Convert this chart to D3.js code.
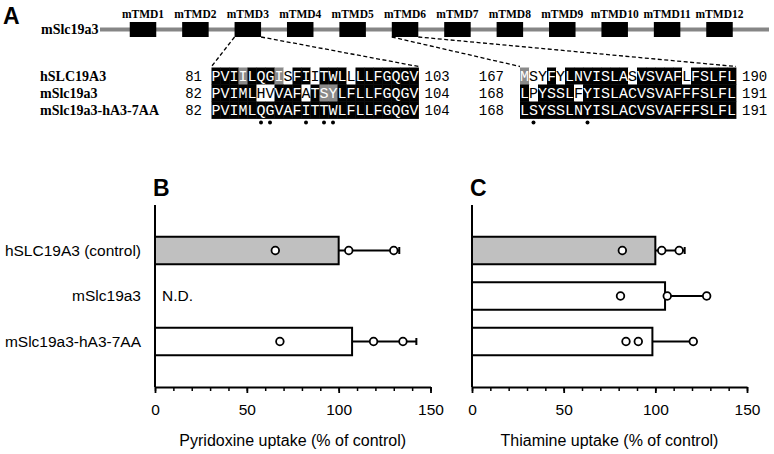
<!DOCTYPE html>
<html><head><meta charset="utf-8">
<script src="https://cdn.jsdelivr.net/npm/d3@7"></script>
<style>body{margin:0;background:#fff}svg{display:block}</style>
</head><body><svg id="c" width="774" height="454"></svg>
<script>
// ---------- DATA ----------
const tmdLabels = ["mTMD1","mTMD2","mTMD3","mTMD4","mTMD5","mTMD6","mTMD7","mTMD8","mTMD9","mTMD10","mTMD11","mTMD12"];
const geneName = "mSlc19a3";
const seqNames = ["hSLC19A3","mSlc19a3","mSlc19a3-hA3-7AA"];
const block1Starts = [81,82,82];
const block1Ends = [103,104,104];
const block1Seqs = ["PVIILQGISFIITWLLLLFGQGV","PVIMLHVVAFATSYLFLLFGQGV","PVIMLQGVAFITTWLFLLFGQGV"];
const block1Shade = ["bbbgbbbgwbbwbbbwbbbbbbb","bbbbbwwbbbwbggbbbbbbbbb","bbbbbbbbbbbbbbbbbbbbbbb"];
const block1Dots = [5,6,10,12,13];
const block2Starts = [167,168,168];
const block2Ends = [190,191,191];
const block2Seqs = ["MSYFYLNVISLASVSVAFLFSLFL","LPYSSLFYISLACVSVAFFFSLFL","LSYSSLNYISLACVSVAFFFSLFL"];
const block2Shade = ["gwwbwbbbbbbbwbbbbbwbbbbb","bwbbbbwbbbbbbbbbbbbbbbbb","bbbbbbbbbbbbbbbbbbbbbbbb"];
const block2Dots = [1,7];

const categories = ["hSLC19A3 (control)","mSlc19a3","mSlc19a3-hA3-7AA"];
const barFills = ["#c0c0c0","#ffffff","#ffffff"];
const pyridoxineMean = [100, null, 107.3];
const pyridoxineSD = [33, null, 35];
const pyridoxinePoints = [[65.5,105.5,130],[],[68,119,135]];
const thiamineMean = [100, 105.3, 98.4];
const thiamineSD = [16, 24, 22];
const thiaminePoints = [[82,103.5,113],[81,106.5,128],[84,90.7,120.7]];
const xTicks = [0,50,100,150];
const xMinorTicks = d3.range(0,151,10);

// ---------- STYLE ----------
const SANS = "'Liberation Sans', Arial, Helvetica, sans-serif";
const SERIF = "'Liberation Serif', 'Times New Roman', serif";
const MONO = "'Liberation Mono', 'Courier New', monospace";
const svg = d3.select("#c");

// ---------- PANEL A ----------
svg.append("text").text("A").attr("x",3).attr("y",24)
  .style("font-family",SANS).style("font-weight","bold").style("font-size","23px");

const lineY = 29.5;
svg.append("text").text(geneName).attr("x",41).attr("y",34)
  .style("font-family",SERIF).style("font-weight","bold").style("font-size","14px");
svg.append("line").attr("x1",100).attr("x2",769).attr("y1",lineY).attr("y2",lineY)
  .attr("stroke","#868686").attr("stroke-width",4);

const tmdX = d3.scalePoint().domain(tmdLabels).range([143,719.5]);
const boxW = 26.5, boxTop = 22, boxH = 15;
svg.selectAll("rect.tmd").data(tmdLabels).join("rect").attr("class","tmd")
  .attr("x",d=>tmdX(d)-boxW/2).attr("y",boxTop).attr("width",boxW).attr("height",boxH).attr("fill","#000");
svg.selectAll("text.tmd").data(tmdLabels).join("text").attr("class","tmd")
  .attr("x",d=>tmdX(d)).attr("y",18).attr("text-anchor","middle").text(d=>d)
  .style("font-family",SERIF).style("font-weight","bold").style("font-size","11.5px");

// alignment
const cw = 9.0, rowH = 17, rowTop0 = 67.5;
const rowTop = r => rowTop0 + r*rowH;
const blocks = [
  {x0:211.5, seqs:block1Seqs, shade:block1Shade, starts:block1Starts, ends:block1Ends, dots:block1Dots, startAnchor:202, tmd:"mTMD3"},
  {x0:520, seqs:block2Seqs, shade:block2Shade, starts:block2Starts, ends:block2Ends, dots:block2Dots, startAnchor:504, tmd:"mTMD6"}
];
const shadeFill = {b:"#000", g:"#8a8a8a", w:"#fff"};
const shadeText = {b:"#fff", g:"#fff", w:"#000"};

seqNames.forEach((n,r)=>{
  svg.append("text").text(n).attr("x",40).attr("y",rowTop(r)+rowH/2+5)
    .style("font-family",SERIF).style("font-weight","bold").style("font-size","14px");
});

blocks.forEach(bk=>{
  const g = svg.append("g");
  bk.seqs.forEach((s,r)=>{
    const chars = s.split("").map((c,k)=>({c,k,sh:bk.shade[r][k]}));
    g.selectAll(null).data(chars).join("rect")
      .attr("x",d=>bk.x0+d.k*cw).attr("y",rowTop(r)).attr("width",cw+0.4).attr("height",rowH+0.4)
      .attr("fill",d=>shadeFill[d.sh]);
    g.selectAll(null).data(chars).join("text")
      .attr("x",d=>bk.x0+(d.k+0.5)*cw).attr("y",rowTop(r)+rowH/2+5).attr("text-anchor","middle")
      .attr("fill",d=>shadeText[d.sh]).text(d=>d.c)
      .style("font-family",MONO).style("font-size","15px");
    const endX = bk.x0 + s.length*cw;
    g.append("text").text(bk.starts[r]).attr("x",bk.startAnchor).attr("y",rowTop(r)+rowH/2+5)
      .attr("text-anchor","end").style("font-family",MONO).style("font-size","14px");
    g.append("text").text(bk.ends[r]).attr("x",endX+6).attr("y",rowTop(r)+rowH/2+5)
      .style("font-family",MONO).style("font-size","14px");
  });
  g.selectAll("circle").data(bk.dots).join("circle")
    .attr("cx",d=>bk.x0+(d+0.5)*cw).attr("cy",rowTop(3)+4).attr("r",2).attr("fill","#000");
  const endX = bk.x0 + bk.seqs[0].length*cw;
  const bx = tmdX(bk.tmd);
  [[bx-boxW/2, bk.x0],[bx+boxW/2, endX]].forEach(([a,b])=>{
    g.append("line").attr("x1",a).attr("y1",boxTop+boxH).attr("x2",b).attr("y2",rowTop0-1)
      .attr("stroke","#000").attr("stroke-width",1.3).attr("stroke-dasharray","4,2.5");
  });
});

// ---------- PANELS B & C ----------
const y = d3.scalePoint().domain(["_top",...categories,"_bottom"]).range([205,387]);
const barH = 27.5;

function panel(opt){
  const x = d3.scaleLinear().domain([0,150]).range(opt.range);
  const g = svg.append("g");
  g.append("text").text(opt.letter).attr("x",opt.range[0]-2).attr("y",196)
    .style("font-family",SANS).style("font-weight","bold").style("font-size","23px");
  categories.forEach((c,i)=>{
    if(opt.mean[i]==null) return;
    g.append("rect").attr("x",x(0)).attr("y",y(c)-barH/2).attr("width",x(opt.mean[i])-x(0)).attr("height",barH)
      .attr("fill",barFills[i]).attr("stroke","#000").attr("stroke-width",2);
    const e = opt.mean[i]+opt.sd[i];
    g.append("line").attr("x1",x(opt.mean[i])).attr("x2",x(e)).attr("y1",y(c)).attr("y2",y(c))
      .attr("stroke","#000").attr("stroke-width",2);
    g.append("line").attr("x1",x(e)).attr("x2",x(e)).attr("y1",y(c)-3.5).attr("y2",y(c)+3.5)
      .attr("stroke","#000").attr("stroke-width",2);
  });
  categories.forEach((c,i)=>{
    g.selectAll(null).data(opt.points[i]).join("circle")
      .attr("cx",d=>x(d)).attr("cy",y(c)).attr("r",3.8)
      .attr("fill","#fff").attr("stroke","#000").attr("stroke-width",1.8);
    if(opt.mean[i]==null && opt.nd){
      g.append("text").text("N.D.").attr("x",x(0)+7).attr("y",y(c)).attr("dy","0.35em")
        .style("font-family",SANS).style("font-size","15.5px");
    }
  });
  if(opt.showCats){
    g.selectAll("text.cat").data(categories).join("text").attr("class","cat")
      .attr("x",opt.range[0]-14).attr("y",d=>y(d)).attr("dy","0.35em").attr("text-anchor","end").text(d=>d)
      .style("font-family",SANS).style("font-size","15.5px");
  }
  g.append("line").attr("x1",x(0)).attr("x2",x(0)).attr("y1",y("_top")).attr("y2",y("_bottom"))
    .attr("stroke","#000").attr("stroke-width",2);
  const ax = g.append("g").attr("transform",`translate(0,${y("_bottom")})`)
    .call(d3.axisBottom(x).tickValues(xMinorTicks).tickSize(4).tickSizeOuter(0).tickFormat(""));
  ax.select(".domain").attr("stroke-width",2);
  ax.selectAll(".tick line").attr("stroke-width",1.5);
  const ax2 = g.append("g").attr("transform",`translate(0,${y("_bottom")})`)
    .call(d3.axisBottom(x).tickValues(xTicks).tickSize(6).tickSizeOuter(0).tickPadding(11));
  ax2.select(".domain").remove();
  ax2.selectAll(".tick line").attr("stroke-width",1.8);
  ax2.selectAll(".tick text").style("font-family",SANS).style("font-size","15.5px").attr("fill","#000");
  g.append("text").text(opt.title).attr("x",(opt.range[0]+opt.range[1])/2).attr("y",446)
    .attr("text-anchor","middle").style("font-family",SANS).style("font-size","16px");
}

panel({letter:"B", range:[155,430.5], mean:pyridoxineMean, sd:pyridoxineSD, points:pyridoxinePoints,
  title:"Pyridoxine uptake (% of control)", showCats:true, nd:true});
panel({letter:"C", range:[472,747], mean:thiamineMean, sd:thiamineSD, points:thiaminePoints,
  title:"Thiamine uptake (% of control)", showCats:false, nd:false});
</script>
</body></html>
